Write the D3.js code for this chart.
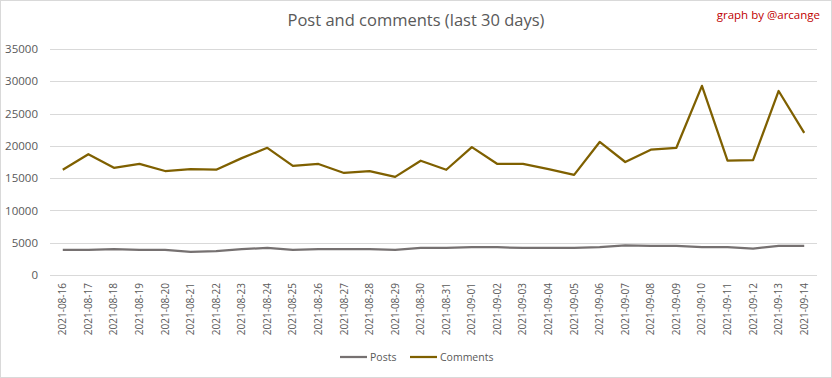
<!DOCTYPE html>
<html>
<head>
<meta charset="utf-8">
<script src="https://cdn.jsdelivr.net/npm/d3@7"></script>
<style>
  body { margin: 0; background: #fff; }
  svg { display: block; font-family: "Open Sans", sans-serif; }
</style>
</head>
<body>
<div id="chart"></div>
<script>
// Post and comments (last 30 days)

const dates = [
  "2021-08-16", "2021-08-17", "2021-08-18", "2021-08-19", "2021-08-20", "2021-08-21",
  "2021-08-22", "2021-08-23", "2021-08-24", "2021-08-25", "2021-08-26", "2021-08-27",
  "2021-08-28", "2021-08-29", "2021-08-30", "2021-08-31", "2021-09-01", "2021-09-02",
  "2021-09-03", "2021-09-04", "2021-09-05", "2021-09-06", "2021-09-07", "2021-09-08",
  "2021-09-09", "2021-09-10", "2021-09-11", "2021-09-12", "2021-09-13", "2021-09-14"
];
const posts = [
  3900, 3900, 4000, 3900, 3900, 3600, 3700, 4000, 4200, 3900,
  4000, 4000, 4000, 3900, 4200, 4200, 4300, 4300, 4200, 4200,
  4200, 4300, 4600, 4500, 4500, 4300, 4300, 4100, 4500, 4500
];
const comments = [
  16300, 18700, 16600, 17200, 16100, 16400, 16300, 18100, 19700, 16900,
  17200, 15800, 16100, 15200, 17700, 16300, 19800, 17200, 17200, 16400,
  15500, 20600, 17500, 19400, 19700, 29300, 17700, 17800, 28500, 22000
];
const yTicks = [0, 5000, 10000, 15000, 20000, 25000, 30000, 35000];

const W = 832, H = 378;
const margin = { top: 49, right: 15, bottom: 103, left: 50 };
const width = W - margin.left - margin.right;
const height = H - margin.top - margin.bottom;

const svg = d3.select("#chart").append("svg")
  .attr("width", W)
  .attr("height", H);

// chart border
svg.append("rect")
  .attr("x", 0.5).attr("y", 0.5)
  .attr("width", W - 1).attr("height", H - 1)
  .attr("fill", "#fff")
  .attr("stroke", "#d9d9d9");

const g = svg.append("g")
  .attr("transform", `translate(${margin.left},${margin.top})`);

const x = d3.scaleBand().domain(dates).range([0, width]);
const y = d3.scaleLinear().domain([0, 35000]).range([height, 0]);

// gridlines
g.append("g")
  .selectAll("line")
  .data(yTicks)
  .enter().append("line")
  .attr("x1", 0).attr("x2", width)
  .attr("y1", d => Math.round(y(d)) + 0.5)
  .attr("y2", d => Math.round(y(d)) + 0.5)
  .attr("stroke", "#d9d9d9")
  .attr("stroke-width", 1);

// y axis labels
const yAxis = g.append("g")
  .call(d3.axisLeft(y).tickValues(yTicks).tickSize(0).tickPadding(12).tickFormat(d3.format("d")));
yAxis.select(".domain").remove();
yAxis.selectAll("text")
  .attr("fill", "#595959")
  .style("font-size", "11.5px")
  .style("font-family", "Open Sans, sans-serif");

// x axis labels, rotated
const xAxis = g.append("g")
  .attr("transform", `translate(0,${height})`)
  .call(d3.axisBottom(x).tickSize(0));
xAxis.select(".domain").remove();
xAxis.selectAll("text")
  .attr("fill", "#595959")
  .style("font-size", "10px")
  .style("font-family", "Open Sans, sans-serif")
  .attr("text-anchor", "end")
  .attr("dy", "0.35em")
  .attr("transform", "translate(0,8) rotate(-90)")
  .attr("x", 0).attr("y", 0);

const line = d3.line()
  .x((d, i) => x(dates[i]) + x.bandwidth() / 2)
  .y(d => y(d));

g.append("path")
  .datum(posts)
  .attr("fill", "none")
  .attr("stroke", "#767171")
  .attr("stroke-width", 2.25)
  .attr("stroke-linejoin", "round")
  .attr("d", line);

g.append("path")
  .datum(comments)
  .attr("fill", "none")
  .attr("stroke", "#7f6000")
  .attr("stroke-width", 2.25)
  .attr("stroke-linejoin", "round")
  .attr("d", line);

// title
svg.append("text")
  .attr("x", 416).attr("y", 26)
  .attr("text-anchor", "middle")
  .attr("fill", "#595959")
  .style("font-size", "16.5px")
  .text("Post and comments (last 30 days)");

svg.append("text")
  .attr("x", 820).attr("y", 19)
  .attr("text-anchor", "end")
  .attr("fill", "#c00000")
  .style("font-size", "11.5px")
  .text("graph by @arcange");

// legend
const legend = [
  { name: "Posts", color: "#767171", x: 340 },
  { name: "Comments", color: "#7f6000", x: 410 }
];
const lg = svg.append("g").selectAll("g")
  .data(legend)
  .enter().append("g")
  .attr("transform", d => `translate(${d.x},357)`);
lg.append("line")
  .attr("x1", 0).attr("x2", 27)
  .attr("stroke", d => d.color)
  .attr("stroke-width", 2.25);
lg.append("text")
  .attr("x", 30).attr("dy", "0.35em")
  .attr("fill", "#595959")
  .style("font-size", "10.5px")
  .text(d => d.name);
</script>
</body>
</html>
